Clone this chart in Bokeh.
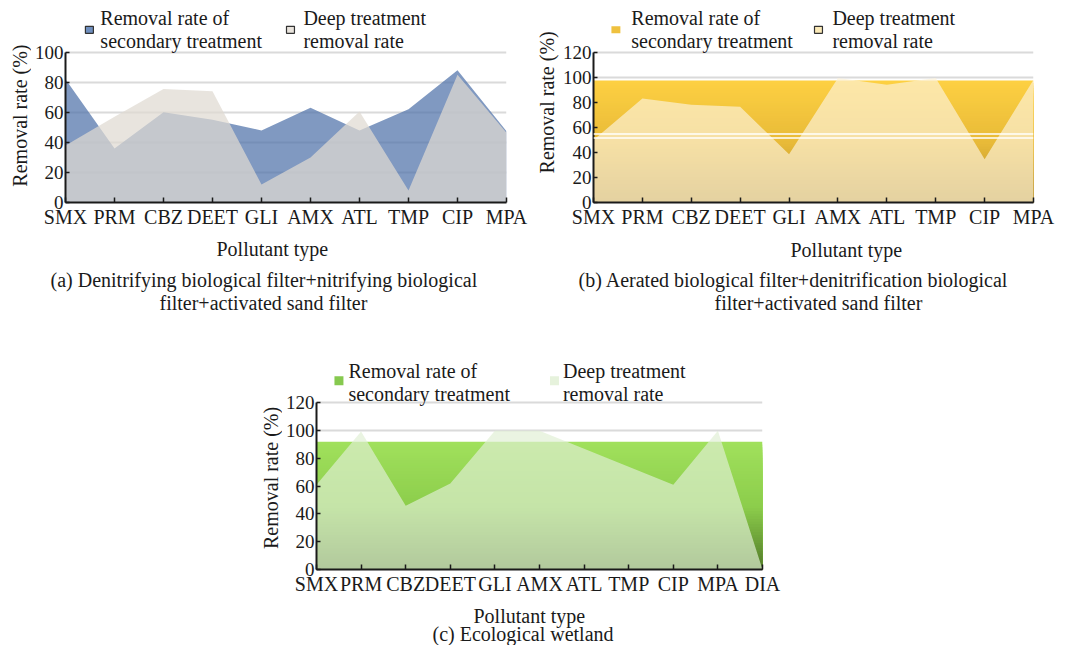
import numpy as np
from bokeh.plotting import figure
from bokeh.models import Range1d, FixedTicker, Span, Spacer, Label, BoxAnnotation
from bokeh.layouts import row, column
from bokeh.embed import file_html
from bokeh.resources import INLINE

# ---------------- data ----------------
cats_a = ["SMX", "PRM", "CBZ", "DEET", "GLI", "AMX", "ATL", "TMP", "CIP", "MPA"]
sec_a = [82, 36, 60, 55, 48, 63, 48, 62, 88, 47.5]
deep_a = [38, 57, 75.5, 74, 12, 30, 60.5, 8, 85, 46.5]

cats_b = ["SMX", "PRM", "CBZ", "DEET", "GLI", "AMX", "ATL", "TMP", "CIP", "MPA"]
sec_b = [97.5, 97.5, 97.5, 97.5, 97.5, 97.5, 97.5, 97.5, 97.5, 97.5]
deep_b = [50, 83, 78, 76.5, 38.5, 99.5, 94, 99.5, 34.5, 98]

cats_c = ["SMX", "PRM", "CBZ", "DEET", "GLI", "AMX", "ATL", "TMP", "CIP", "MPA", "DIA"]
sec_c = [92, 92, 92, 92, 92, 92, 92, 92, 92, 92, 92]
deep_c = [61, 99.5, 46, 62, 100, 100, 87, 74, 61, 100, 0]

yticks_a = [0, 20, 40, 60, 80, 100]
yticks_bc = [0, 20, 40, 60, 80, 100, 120]

legend_sec = ["Removal rate of", "secondary treatment"]
legend_deep = ["Deep treatment", "removal rate"]
x_title = "Pollutant type"
y_title = "Removal rate (%)"
caption_a = ["(a) Denitrifying biological filter+nitrifying biological", "filter+activated sand filter"]
caption_b = ["(b) Aerated biological filter+denitrification biological", "filter+activated sand filter"]
caption_c = ["(c) Ecological wetland"]

FONT = "Liberation Serif"
INK = "#1a1a1a"
FS = "20px"


class Geo:
    """page-pixel geometry of a plot frame, used to place legend texts/keys"""
    def __init__(self, fl, fr, ft, fb, ymax, y_data_top_px, n):
        self.fl, self.fr, self.ft, self.fb = fl, fr, ft, fb
        self.n = n
        self.ppu = (fb - y_data_top_px) / ymax          # pixels per value unit
        self.ytop = (fb - ft) / self.ppu                 # range end covering legend strip

    def x(self, X):
        return (X - self.fl) / (self.fr - self.fl) * (self.n - 1)

    def y(self, Y):
        return (self.fb - Y) / self.ppu


def make_plot(cats, ymax, yticks, ox, oy, width, geo, bottom_border):
    n = len(cats)
    height = (geo.fb - geo.ft) + bottom_border
    p = figure(width=width, height=height, output_backend="svg", toolbar_location=None,
               x_range=Range1d(0, n - 1), y_range=Range1d(0, geo.ytop),
               min_border_left=geo.fl - ox, min_border_right=ox + width - geo.fr,
               min_border_top=geo.ft - oy, min_border_bottom=bottom_border,
               outline_line_color=None, background_fill_color="white",
               border_fill_color="white")
    p.xaxis.ticker = FixedTicker(ticks=list(range(n)))
    p.xaxis.major_label_overrides = {i: c for i, c in enumerate(cats)}
    p.yaxis.ticker = FixedTicker(ticks=yticks)
    p.yaxis.bounds = (0, ymax)
    p.xgrid.visible = False
    p.ygrid.ticker = FixedTicker(ticks=yticks[1:])
    p.ygrid.grid_line_color = "#dadada"
    p.ygrid.grid_line_width = 2
    for ax in (p.xaxis[0], p.yaxis[0]):
        ax.axis_line_color = INK
        ax.axis_line_width = 2
        ax.major_tick_line_color = INK
        ax.major_tick_line_width = 1.5
        ax.minor_tick_line_color = None
        ax.major_tick_out = 0
        ax.major_label_text_font = FONT
        ax.major_label_text_color = INK
    p.xaxis.major_label_text_font_size = "20px"
    p.yaxis.major_label_text_font_size = "19px"
    p.xaxis.major_tick_in = 5
    p.yaxis.major_tick_in = 4
    p.xaxis.major_label_standoff = 3
    p.yaxis.major_label_standoff = 2
    return p


def legend(p, geo, key_boxes, text_x, line_y, labels, fills, lines):
    for (x0, y0, x1, y1), f, l in zip(key_boxes, fills, lines):
        p.add_layout(BoxAnnotation(left=geo.x(x0), right=geo.x(x1),
                                   top=geo.y(y0), bottom=geo.y(y1),
                                   fill_color=f, fill_alpha=1.0,
                                   line_color=l if l else None, line_width=1.2,
                                   line_alpha=1.0 if l else 0.0))
    for tx, lab in zip(text_x, labels):
        for ly, line in zip(line_y, lab):
            p.add_layout(Label(x=geo.x(tx), y=geo.y(ly), text=line, text_font=FONT,
                               text_font_size=FS, text_color=INK,
                               text_align="left", text_baseline="middle"))


def text_fig(width, height, ox, oy, items, angle=0.0):
    """a blank strip whose texts are placed in page pixels (left edge x, centre y)"""
    c = figure(width=width, height=height, output_backend="svg", toolbar_location=None,
               x_range=Range1d(0, width), y_range=Range1d(height, 0),
               x_axis_type=None, y_axis_type=None, min_border=0,
               outline_line_color=None, background_fill_color="white",
               border_fill_color="white")
    c.grid.visible = False
    for (X, Y, text, align) in items:
        c.add_layout(Label(x=X - ox, y=Y - oy, text=text, text_font=FONT, text_font_size=FS,
                           text_color=INK, text_align=align, text_baseline="middle",
                           angle=angle))
    return c


def mix(stops, f):
    for (f0, c0), (f1, c1) in zip(stops[:-1], stops[1:]):
        if f0 <= f <= f1:
            t = (f - f0) / (f1 - f0) if f1 > f0 else 0
            c = [round(a + (b - a) * t) for a, b in zip(c0, c1)]
            return "#%02x%02x%02x" % tuple(c)
    return "#%02x%02x%02x" % tuple(stops[-1][1])


def gradient_area(p, vals, stops, n=48):
    xs = np.arange(len(vals))
    v = np.asarray(vals, dtype=float)
    top = v.max()
    for k in range(n):
        lev = top * (1 - k / n)
        p.varea(x=xs, y1=np.zeros_like(v), y2=np.minimum(v, lev),
                fill_color=mix(stops, lev / top), fill_alpha=1.0)


ROT = np.pi / 2

# ---------------- panel (a) ----------------
ga = Geo(63, 506, 0, 203, 100, 52, len(cats_a))
pa = make_plot(cats_a, 100, yticks_a, 31, 0, 497, ga, 27)
xa = np.arange(len(cats_a))
pa.varea(x=xa, y1=np.zeros(len(xa)), y2=sec_a, fill_color="#4f72a9", fill_alpha=0.72)
pa.varea(x=xa, y1=np.zeros(len(xa)), y2=deep_a, fill_color="#dfd9d1", fill_alpha=0.72)
legend(pa, ga, [(83, 26, 91, 33), (285, 26, 293, 33)], [98, 302], [18, 41],
       [legend_sec, legend_deep], ["#6f8fbf", "#e9e4dd"], ["#333333", "#333333"])
ya = text_fig(31, 230, 0, 0, [(19, 131, y_title, "center")], angle=ROT)
ca = text_fig(528, 115, 0, 230, [(216, 248, x_title, "left"), (50, 279, caption_a[0], "left"),
                                 (159, 302, caption_a[1], "left")])

# ---------------- panel (b) ----------------
gb = Geo(591, 1033, 0, 203, 120, 52, len(cats_b))
pb = make_plot(cats_b, 120, yticks_bc, 559, 0, 508, gb, 27)
gold = [(0.0, (176, 140, 44)), (0.5, (232, 186, 56)), (1.0, (253, 208, 66))]
gradient_area(pb, sec_b, gold)
xb = np.arange(len(cats_b))
pb.varea(x=xb, y1=np.zeros(len(xb)), y2=deep_b, fill_color="#fcf2d9", fill_alpha=0.68)
for loc in (51.5, 54.7):
    pb.add_layout(Span(location=loc, dimension="width", line_color="white", line_width=1.5))
legend(pb, gb, [(609, 26, 618, 33), (813, 26, 821, 33)], [629, 831], [18, 41],
       [legend_sec, legend_deep], ["#efc13e", "#fbeab8"], [None, "#333333"])
yb = text_fig(31, 230, 528, 0, [(546, 116, y_title, "center")], angle=ROT)
cb = text_fig(539, 115, 528, 230, [(790, 249, x_title, "left"), (578, 279, caption_b[0], "left"),
                                   (714, 302, caption_b[1], "left")])

# ---------------- panel (c) ----------------
gc = Geo(315, 762, 345, 571, 120, 403, len(cats_c))
pc = make_plot(cats_c, 120, yticks_bc, 282, 345, 518, gc, 26)
green = [(0.0, (80, 120, 40)), (0.5, (140, 205, 75)), (1.0, (160, 224, 92))]
gradient_area(pc, sec_c, green)
xc = np.arange(len(cats_c))
pc.varea(x=xc, y1=np.zeros(len(xc)), y2=deep_c, fill_color="#e0efd4", fill_alpha=0.68)
legend(pc, gc, [(333, 376, 342, 385), (549, 376, 558, 385)], [347, 562], [371, 394],
       [legend_sec, legend_deep], ["#86c94f", "#e6f2dc"], [None, None])
yc = text_fig(32, 252, 250, 345, [(270, 494, y_title, "center")], angle=ROT)
cc = text_fig(550, 48, 250, 597, [(473, 615, x_title, "left"), (432, 633, caption_c[0], "left")])

layout = column(row(column(row(ya, pa), ca), column(row(yb, pb), cb)),
                row(Spacer(width=250, height=300), column(row(yc, pc), cc)))
open("out.html", "w").write(file_html(layout, INLINE))
